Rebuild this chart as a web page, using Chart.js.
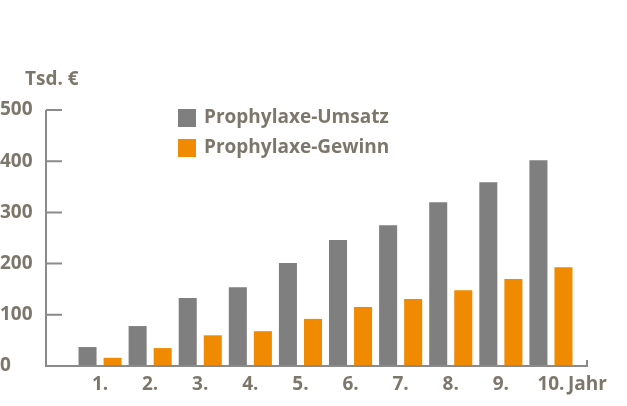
<!DOCTYPE html>
<html>
<head>
<meta charset="utf-8">
<script src="https://cdn.jsdelivr.net/npm/chart.js@4"></script>
<style>
  html, body { margin: 0; padding: 0; background: #fff; }
  #wrap { width: 627px; height: 406px; }
</style>
</head>
<body>
<div id="wrap"><canvas id="chart" width="627" height="406"></canvas></div>
<script>
const years = ["1.", "2.", "3.", "4.", "5.", "6.", "7.", "8.", "9.", "10."];
const umsatz = [37, 78, 133, 154, 201, 246, 275, 320, 359, 402];
const gewinn = [16, 35, 60, 68, 92, 115, 131, 148, 170, 193];
const yTicks = [0, 100, 200, 300, 400, 500];

const textColor = "#7d776b";
const axisColor = "#8a8a8a";
const font = "bold 19px 'Open Sans', 'DejaVu Sans', sans-serif";

// axes, labels and legend drawn by hand so positions match the print layout
const decorations = {
  id: "decorations",
  afterDraw(chart) {
    const ctx = chart.ctx;
    const y = chart.scales.y;
    const x = chart.scales.x;
    const y0 = y.getPixelForValue(0);
    ctx.save();
    ctx.strokeStyle = axisColor;
    ctx.lineWidth = 2;
    ctx.beginPath();
    ctx.moveTo(46, y.getPixelForValue(500));
    ctx.lineTo(46, y0);
    ctx.lineTo(587, y0);
    ctx.lineTo(587, y0 - 6);
    yTicks.forEach(v => {
      const py = y.getPixelForValue(v);
      ctx.moveTo(46, py);
      ctx.lineTo(62, py);
    });
    ctx.stroke();

    ctx.fillStyle = textColor;
    ctx.font = font;
    ctx.textBaseline = "middle";
    ctx.textAlign = "left";
    yTicks.forEach(v => ctx.fillText(String(v), 0, y.getPixelForValue(v)));
    ctx.fillText("Tsd. €", 25, 80);

    ctx.textAlign = "center";
    years.forEach((lbl, i) => ctx.fillText(lbl, x.getPixelForValue(i), 385));
    ctx.textAlign = "left";
    ctx.fillText("Jahr", 568, 385);

    chart.data.datasets.forEach((ds, i) => {
      const ly = 118 + i * 30;
      ctx.fillStyle = ds.backgroundColor;
      ctx.fillRect(178, ly - 9, 18, 18);
      ctx.fillStyle = textColor;
      ctx.fillText(ds.label, 204, ly);
    });
    ctx.restore();
  }
};

new Chart(document.getElementById("chart"), {
  type: "bar",
  data: {
    labels: years,
    datasets: [
      { label: "Prophylaxe-Umsatz", data: umsatz, backgroundColor: "#7f7f7f" },
      { label: "Prophylaxe-Gewinn", data: gewinn, backgroundColor: "#f08a00" }
    ]
  },
  options: {
    responsive: false,
    animation: false,
    devicePixelRatio: 1,
    layout: { padding: { left: 75, right: 51, top: 110, bottom: 40 } },
    datasets: { bar: { categoryPercentage: 1, barPercentage: 0.72 } },
    plugins: { legend: { display: false }, tooltip: { enabled: false } },
    scales: {
      x: { display: false },
      y: { display: false, min: 0, max: 500 }
    }
  },
  plugins: [decorations]
});
</script>
</body>
</html>
